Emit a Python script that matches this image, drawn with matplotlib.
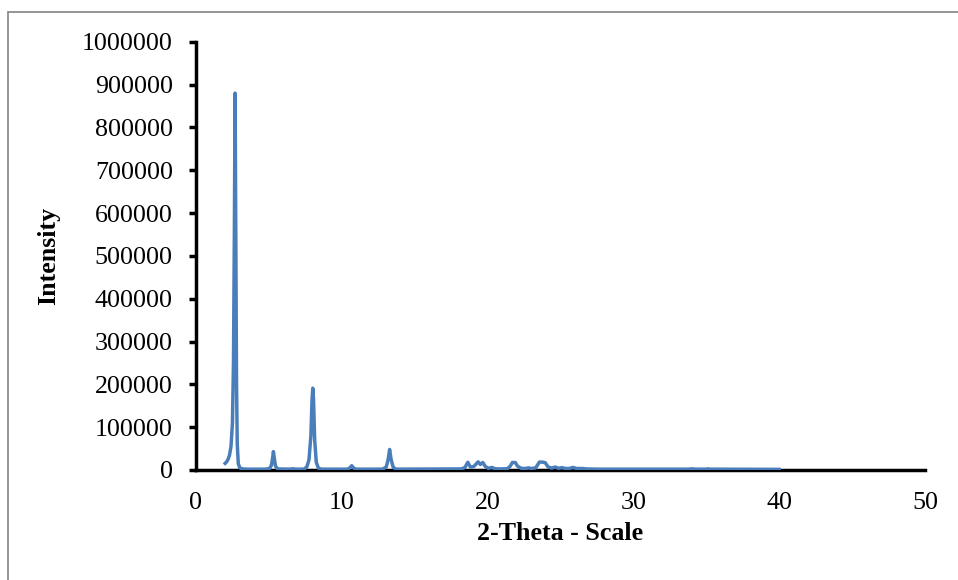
import matplotlib
matplotlib.use("Agg")
import matplotlib.pyplot as plt
from matplotlib.patches import Rectangle

# 2-theta (deg) and intensity
two_theta = [2.00, 2.10, 2.20, 2.30, 2.40, 2.50, 2.57, 2.63, 2.68, 2.73,
             2.78, 2.83, 2.90, 3.00, 3.20, 3.50, 4.80, 5.05, 5.18, 5.26,
             5.31, 5.36, 5.45, 5.60, 6.50, 6.64, 6.80, 7.40, 7.60, 7.75,
             7.88, 7.96, 8.01, 8.06, 8.14, 8.25, 8.40, 8.60, 10.40, 10.55,
             10.68, 10.80, 10.95, 12.80, 13.05, 13.18, 13.28, 13.38, 13.52, 13.70,
             18.20, 18.45, 18.64, 18.82, 19.05, 19.35, 19.50, 19.67, 19.85, 20.05,
             20.30, 20.50, 20.80, 21.35, 21.55, 21.70, 21.90, 22.05, 22.30, 22.60,
             22.80, 23.00, 23.30, 23.55, 23.75, 23.95, 24.15, 24.40, 24.65, 24.85,
             25.10, 25.35, 25.60, 25.85, 26.10, 26.50, 26.80, 27.50, 33.80, 34.00,
             34.20, 35.00, 35.10, 35.20, 40.00]
intensity = [15500, 19000, 25000, 35000, 55000, 110000, 250000, 550000, 880000, 550000,
             200000, 60000, 15000, 5000, 2500, 2000, 2000, 3500, 12000, 30000,
             43000, 30000, 9000, 2500, 2000, 3000, 2000, 2000, 7000, 24000,
             80000, 165000, 191000, 165000, 70000, 18000, 4000, 2000, 2000, 5000,
             10000, 5000, 2000, 2000, 7000, 25000, 48000, 25000, 7000, 2000,
             2500, 6000, 18000, 7000, 8000, 19000, 13000, 17500, 8000, 4000,
             6000, 3000, 2500, 3000, 9000, 17500, 17500, 9000, 4000, 3500,
             5000, 3500, 5000, 18500, 18500, 17000, 7000, 4500, 7000, 4000,
             5500, 3500, 3500, 6000, 3500, 3500, 2500, 2000, 2000, 2800,
             2000, 2000, 2800, 2000, 1500]

y_ticks = [0, 100000, 200000, 300000, 400000, 500000, 600000, 700000, 800000, 900000, 1000000]
x_ticks = [0, 10, 20, 30, 40, 50]

plt.rcParams['font.family'] = ['Liberation Serif', 'DejaVu Serif']
plt.rcParams['font.size'] = 18.7

fig = plt.figure(figsize=(9.58, 5.80), dpi=100)
ax = fig.add_axes([196 / 958, 1 - 470 / 580, 729 / 958, 428.3 / 580])

ax.plot(two_theta, intensity, color='#4A7EBB', linewidth=2.5, zorder=3,
        solid_joinstyle='round')

ax.set_xlim(0, 50)
ax.set_ylim(0, 1000000)
ax.set_xticks(x_ticks)
ax.set_yticks(y_ticks)
ax.set_yticklabels([str(v) for v in y_ticks])

for side in ['top', 'right']:
    ax.spines[side].set_visible(False)
for side in ['left', 'bottom']:
    ax.spines[side].set_linewidth(2.5)
    ax.spines[side].set_color('black')

ax.tick_params(axis='x', length=0, pad=16)
ax.tick_params(axis='y', direction='out', length=5, width=2.5, pad=11.7)

ax.set_xlabel('2-Theta - Scale', fontweight='bold')
ax.set_ylabel('Intensity', fontweight='bold')
ax.xaxis.set_label_coords(0.5, -0.122)
ax.yaxis.set_label_coords(-0.187, 0.5)

# thin grey frame around the chart area
fig.patches.append(Rectangle((8 / 958, -0.1), 1.2, 1 - 12 / 580 + 0.1,
                             transform=fig.transFigure, fill=False,
                             edgecolor='#8c8c8c', linewidth=1.3))

fig.savefig('out.png', dpi=100)
